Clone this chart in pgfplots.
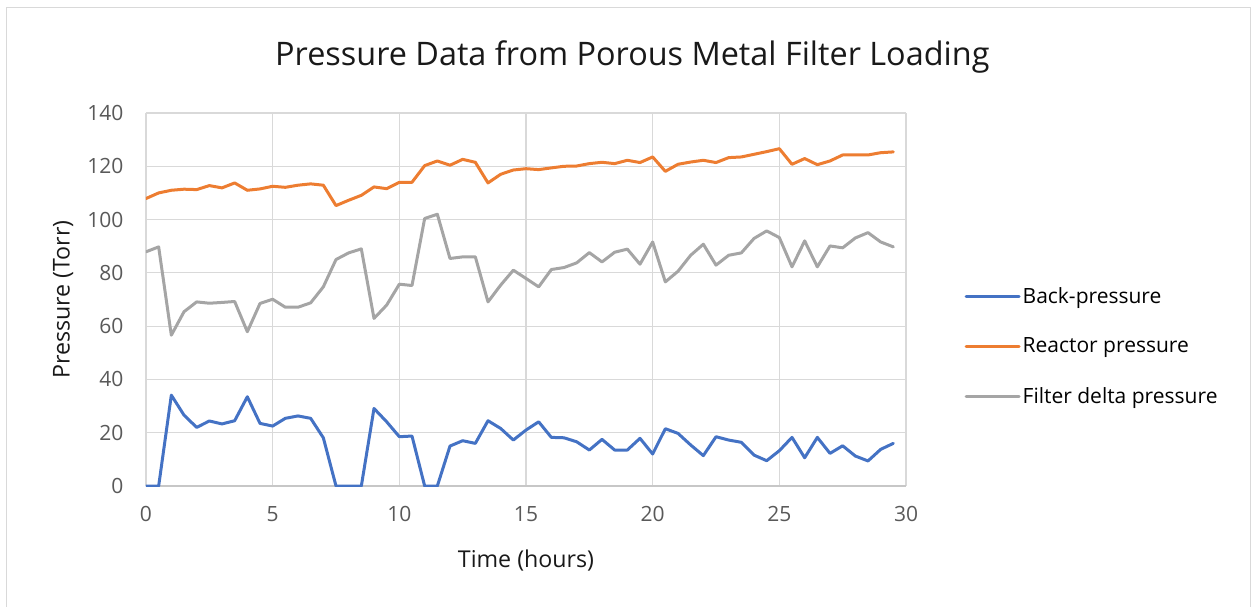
\documentclass[border=0pt]{standalone}
\usepackage{pgfplots}
\pgfplotsset{compat=1.18}
\usepackage{pgfplotstable}
\usepackage{fontspec}
\setmainfont{Open Sans}
\definecolor{cblue}{HTML}{4472C4}
\definecolor{corange}{HTML}{ED7D31}
\definecolor{cgray}{HTML}{A5A5A5}
\definecolor{gridc}{HTML}{D9D9D9}
\definecolor{tickc}{HTML}{595959}
\pgfplotstableread{
x back reactor filter
0 0 107.9 87.9
0.5 0 110 89.75
1 34.1 111 56.6
1.5 26.6 111.4 65.4
2 22 111.25 69.1
2.5 24.4 112.75 68.6
3 23.3 111.9 68.9
3.5 24.5 113.75 69.25
4 33.5 111 57.9
4.5 23.5 111.5 68.5
5 22.5 112.5 70.1
5.5 25.4 112.1 67.1
6 26.3 112.9 67.1
6.5 25.4 113.4 68.75
7 18.1 112.9 74.75
7.5 0 105.25 85
8 0 107.25 87.5
8.5 0 109.1 89
9 29.1 112.25 62.9
9.5 24.1 111.6 67.9
10 18.5 114 75.75
10.5 18.75 114 75.25
11 0 120.25 100.4
11.5 0 122 102
12 15 120.4 85.4
12.5 17 122.6 86
13 16 121.5 86
13.5 24.5 113.75 69.1
14 21.6 117 75.4
14.5 17.25 118.6 81
15 21 119.1 77.9
15.5 24.1 118.75 74.75
16 18.25 119.4 81.25
16.5 18.1 120 82
17 16.6 120.1 83.75
17.5 13.5 121 87.6
18 17.5 121.5 84.1
18.5 13.5 121 87.75
19 13.5 122.25 88.9
19.5 17.9 121.4 83.25
20 12 123.5 91.6
20.5 21.5 118.1 76.6
21 19.75 120.75 80.6
21.5 15.4 121.6 86.6
22 11.4 122.25 90.75
22.5 18.5 121.4 82.9
23 17.25 123.25 86.6
23.5 16.4 123.5 87.5
24 11.6 124.5 92.9
24.5 9.5 125.5 95.75
25 13.25 126.6 93.25
25.5 18.25 120.75 82.25
26 10.6 122.9 92
26.5 18.25 120.6 82.25
27 12.25 122 90.1
27.5 15.1 124.25 89.4
28 11.25 124.25 93.1
28.5 9.4 124.25 95.1
29 13.75 125.1 91.6
29.5 16 125.4 89.75
}\data
\begin{document}
\begin{tikzpicture}
\path[use as bounding box] (-146pt,-120pt) rectangle (1106pt,486pt);
\begin{axis}[
  at={(0pt,0pt)}, anchor=south west,
  scale only axis, width=760pt, height=373pt,
  xmin=0, xmax=30, ymin=0, ymax=140,
  xtick={0,5,...,30}, ytick={0,20,...,140},
  grid=major, major grid style={draw=gridc, line width=1.1pt},
  major tick length=0pt,
  axis line style={draw=none},
  /pgf/number format/assume math mode=true,
  tick label style={font=\fontsize{21}{23}\selectfont, text=tickc},
  xticklabel style={yshift=-17pt},
  yticklabel style={xshift=-19pt},
  title={Pressure Data from Porous Metal Filter Loading},
  title style={at={(rel axis cs:0.64,1.134)}, anchor=center, font=\fontsize{32.4}{35}\selectfont, text=black!90},
  xlabel={Time (hours)},
  ylabel={Pressure (Torr)},
  xlabel style={at={(rel axis cs:0.5,-0.2)}, anchor=center, font=\fontsize{23.2}{26}\selectfont, text=black!90},
  ylabel style={at={(rel axis cs:-0.109,0.5)}, anchor=center, rotate=0, font=\fontsize{23.2}{26}\selectfont, text=black!90},
  legend style={at={(rel axis cs:1.073,0.375)}, anchor=west, draw=none, fill=none,
    font=\fontsize{21}{23}\selectfont, row sep=29pt},
  legend cell align=left,
  legend image code/.code={\draw[#1] (0pt,0pt) -- (53pt,0pt);},
  every axis plot/.append style={line width=3pt, line join=round, line cap=round},
]
\draw[color=gridc!80!gray, line width=1.1pt] (rel axis cs:0,0) -- (rel axis cs:1,0);
\addplot[cblue, no markers] table[x=x, y=back] {\data};
\addlegendentry{Back-pressure}
\addplot[corange, no markers] table[x=x, y=reactor] {\data};
\addlegendentry{Reactor pressure}
\addplot[cgray, no markers] table[x=x, y=filter] {\data};
\addlegendentry{Filter delta pressure}
\end{axis}
\draw[gridc, line width=1pt] (-139pt,-125pt) -- (-139pt,478pt) -- (1104pt,478pt) -- (1104pt,-125pt);
\end{tikzpicture}
\end{document}
